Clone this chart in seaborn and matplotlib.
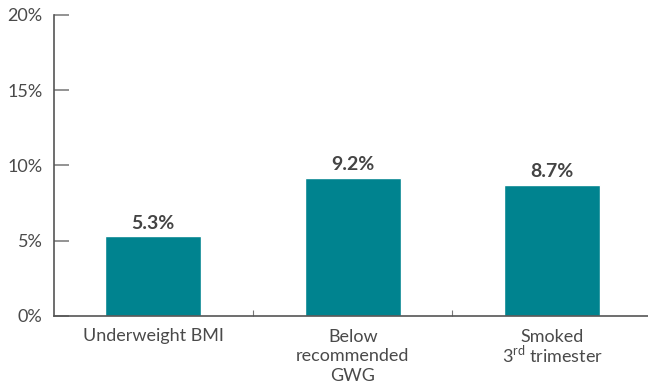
import matplotlib
matplotlib.use("Agg")
import matplotlib.pyplot as plt
import seaborn as sns
import pandas as pd
from matplotlib.ticker import FixedLocator

categories = ["Underweight BMI", "Below\nrecommended\nGWG", "Smoked\n3$^{\\rm rd}$ trimester"]
values = [5.3, 9.2, 8.7]
value_labels = ["5.3%", "9.2%", "8.7%"]
y_ticks = [0, 5, 10, 15, 20]
y_tick_labels = ["0%", "5%", "10%", "15%", "20%"]

sns.set_style("white")
plt.rcParams["font.family"] = ["Lato", "DejaVu Sans"]
plt.rcParams["mathtext.fontset"] = "custom"
plt.rcParams["mathtext.rm"] = "Lato"

df = pd.DataFrame({"cat": categories, "val": values})

fig = plt.figure(figsize=(6.48, 3.85), dpi=100)
ax = fig.add_axes([53.5 / 648, 69 / 385, 1 - 53.5 / 648, (316 - 15) / 385])

sns.barplot(data=df, x="cat", y="val", color="#00838F", saturation=1, width=0.48, ax=ax)

ax.set_ylim(0, 20)
ax.set_xlim(-0.5, 2.48)
ax.set_xlabel("")
ax.set_ylabel("")

ax.set_yticks(y_ticks)
ax.set_yticklabels(y_tick_labels)
ax.tick_params(axis="y", direction="in", length=11, width=1.3, color="#8a8a8a",
               labelsize=13, labelcolor="#4a4a4a", pad=8, left=True)

ax.set_xticks(range(len(categories)))
ax.set_xticklabels(categories, linespacing=1.3)
ax.get_xticklabels()[2].set_linespacing(0.95)
ax.tick_params(axis="x", which="major", length=0, labelsize=13, labelcolor="#4a4a4a", pad=9)
ax.xaxis.set_minor_locator(FixedLocator([0.5, 1.5]))
ax.tick_params(axis="x", which="minor", direction="in", length=4.5, width=0.8, color="#777777", bottom=True)

for s in ["top", "right"]:
    ax.spines[s].set_visible(False)
for s in ["left", "bottom"]:
    ax.spines[s].set_color("#555555")
    ax.spines[s].set_linewidth(1.2)

for i, (v, lab) in enumerate(zip(values, value_labels)):
    ax.annotate(lab, (i, v), xytext=(0, 5.5), textcoords="offset points",
                ha="center", va="baseline", fontsize=14, fontweight="bold", color="#444444")

fig.savefig("out.png", dpi=100)
